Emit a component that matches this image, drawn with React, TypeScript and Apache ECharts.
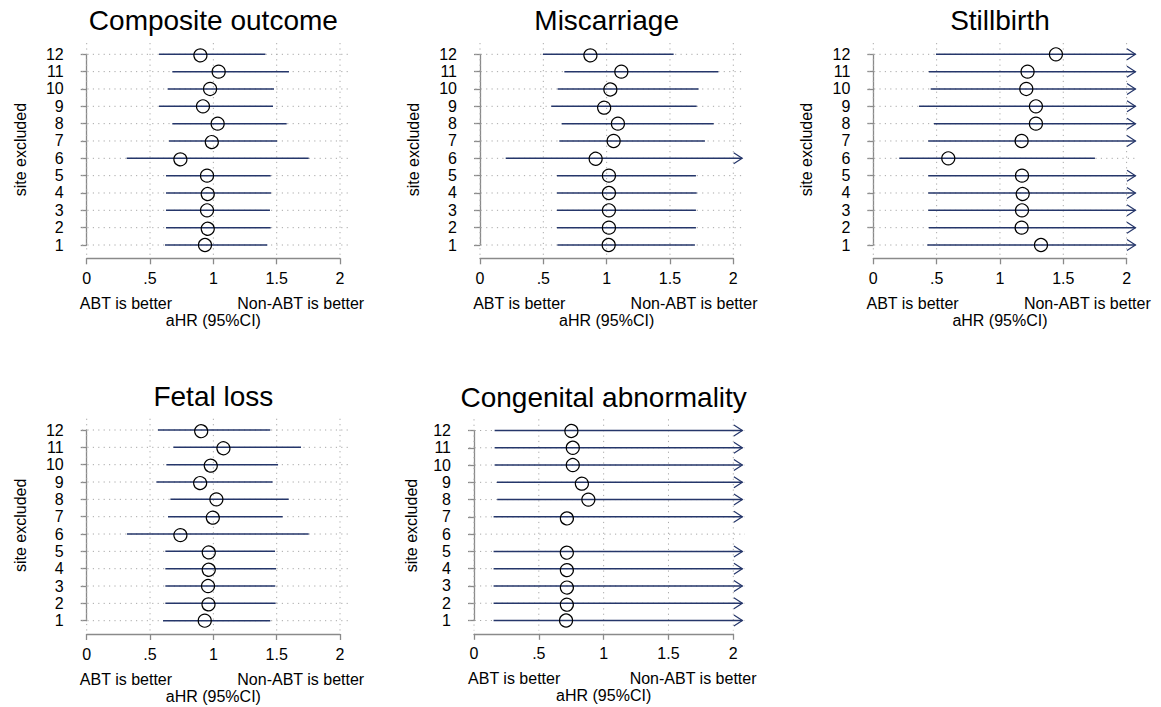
import React, { useEffect, useRef } from "react";
import * as echarts from "echarts";

// ---------- data ----------
const sites = [1, 2, 3, 4, 5, 6, 7, 8, 9, 10, 11, 12];
const xTicks = [0, 0.5, 1, 1.5, 2];
const xTickLabels = ["0", ".5", "1", "1.5", "2"];
const titles = ["Composite outcome", "Miscarriage", "Stillbirth", "Fetal loss", "Congenital abnormality"];
const yAxisTitle = "site excluded";
const xAxisTitle = "aHR (95%CI)";
const leftNote = "ABT is better";
const rightNote = "Non-ABT is better";

// values per excluded site 1..12 ; null upper bound = beyond the axis (drawn as arrow)
const compositeEst = [0.934, 0.955, 0.95, 0.955, 0.95, 0.739, 0.987, 1.034, 0.918, 0.974, 1.042, 0.897];
const compositeLo = [0.618, 0.626, 0.626, 0.626, 0.626, 0.316, 0.65, 0.676, 0.571, 0.639, 0.676, 0.571];
const compositeHi = [1.426, 1.453, 1.447, 1.455, 1.453, 1.753, 1.503, 1.579, 1.471, 1.479, 1.597, 1.411];

const miscarriageEst = [1.016, 1.018, 1.018, 1.018, 1.018, 0.913, 1.055, 1.089, 0.979, 1.029, 1.116, 0.871];
const miscarriageLo = [0.611, 0.608, 0.608, 0.608, 0.608, 0.203, 0.626, 0.645, 0.563, 0.613, 0.666, 0.497];
const miscarriageHi = [1.697, 1.705, 1.705, 1.711, 1.705, null, 1.776, 1.845, 1.711, 1.726, 1.882, 1.529];

const stillbirthEst = [1.324, 1.171, 1.174, 1.179, 1.174, 0.592, 1.171, 1.284, 1.284, 1.208, 1.218, 1.442];
const stillbirthLo = [0.426, 0.439, 0.434, 0.434, 0.434, 0.205, 0.434, 0.479, 0.361, 0.453, 0.439, 0.495];
const stillbirthHi = [null, null, null, null, null, 1.75, null, null, null, null, null, null];

const fetalEst = [0.932, 0.961, 0.958, 0.963, 0.963, 0.739, 0.995, 1.024, 0.895, 0.979, 1.079, 0.903];
const fetalLo = [0.603, 0.621, 0.621, 0.621, 0.621, 0.318, 0.642, 0.661, 0.55, 0.629, 0.684, 0.563];
const fetalHi = [1.45, 1.492, 1.489, 1.495, 1.487, 1.753, 1.547, 1.595, 1.468, 1.511, 1.692, 1.45];

const congenitalEst = [0.71, 0.715, 0.715, 0.715, 0.715, null, 0.715, 0.882, 0.831, 0.762, 0.762, 0.751];
const congenitalLo = [0.151, 0.151, 0.151, 0.151, 0.151, null, 0.151, 0.179, 0.177, 0.159, 0.159, 0.159];
const congenitalHi = [null, null, null, null, null, null, null, null, null, null, null, null];

// ---------- styling / layout ----------
const FONT = '"Liberation Sans", Arial, Helvetica, sans-serif';
const NAVY = "#25366a";
const AXIS_GRAY = "#8a8a8a";
const DOT_GRAY = "#a8a8a8";
const ARROW_TIP = 2.07;
const PLOT_X_MIN = -0.037;
const PLOT_X_MAX = 2.09;
const PLOT_Y_MIN = 0.42;
const PLOT_Y_MAX = 12.65;
const X_OFFSET = 13.3;
const Y_OFFSET = 14;

const panelLayout = [
  { left: 86.7, top: 54.3, width: 253.3, height: 190.7, nameGap: 52.7 },
  { left: 480, top: 54.3, width: 253.3, height: 190.7, nameGap: 52.7 },
  { left: 873.3, top: 54.3, width: 253.3, height: 190.7, nameGap: 52.7 },
  { left: 86.7, top: 430, width: 253.3, height: 190.7, nameGap: 52.7 },
  { left: 474, top: 430.5, width: 259.3, height: 190, nameGap: 48.5 },
];

const panelData = [
  { est: compositeEst, lo: compositeLo, hi: compositeHi },
  { est: miscarriageEst, lo: miscarriageLo, hi: miscarriageHi },
  { est: stillbirthEst, lo: stillbirthLo, hi: stillbirthHi },
  { est: fetalEst, lo: fetalLo, hi: fetalHi },
  { est: congenitalEst, lo: congenitalLo, hi: congenitalHi },
];

function buildOption() {
  const grid = panelLayout.map((g) => ({
    left: g.left,
    top: g.top,
    width: g.width,
    height: g.height,
    containLabel: false,
  }));
  const xAxis = panelLayout.map((_, i) => ({
    gridIndex: i,
    type: "value",
    min: 0,
    max: 2,
    interval: 0.5,
    position: "bottom",
    offset: X_OFFSET,
    axisLine: { show: true, lineStyle: { color: AXIS_GRAY, width: 1.3 } },
    axisTick: { show: true, length: 6, lineStyle: { color: AXIS_GRAY, width: 1.3 } },
    axisLabel: {
      show: true,
      fontSize: 16,
      color: "#000",
      fontFamily: FONT,
      margin: 12,
      showMinLabel: true,
      showMaxLabel: true,
      formatter: (v: number) => {
        const k = xTicks.findIndex((t) => Math.abs(t - v) < 1e-9);
        return k >= 0 ? xTickLabels[k] : "";
      },
    },
    splitLine: { show: false },
  }));
  const yAxis = panelLayout.map((_, i) => ({
    gridIndex: i,
    type: "value",
    min: 1,
    max: 12,
    interval: 1,
    position: "left",
    offset: Y_OFFSET,
    axisLine: { show: true, lineStyle: { color: AXIS_GRAY, width: 1.3 } },
    axisTick: { show: true, length: 6, lineStyle: { color: AXIS_GRAY, width: 1.3 } },
    axisLabel: {
      show: true,
      fontSize: 16,
      color: "#000",
      fontFamily: FONT,
      margin: 9,
      showMinLabel: true,
      showMaxLabel: true,
      formatter: (v: number) => String(sites.find((s) => s === v) ?? v),
    },
    splitLine: { show: false },
  }));

  const series: any[] = [];
  panelLayout.forEach((layout, i) => {
    const d = panelData[i];
    // background: dotted grid, notes, titles
    series.push({
      type: "custom",
      xAxisIndex: i,
      yAxisIndex: i,
      clip: false,
      silent: true,
      z: 1,
      data: [[1, 1]],
      renderItem: (_params: any, api: any) => {
        const children: any[] = [];
        const xl = api.coord([PLOT_X_MIN, 1])[0];
        const xr = api.coord([PLOT_X_MAX, 1])[0];
        const yt = api.coord([0, PLOT_Y_MAX])[1];
        const yb = api.coord([0, PLOT_Y_MIN])[1];
        sites.forEach((s) => {
          const y = api.coord([0, s])[1];
          children.push({
            type: "line",
            shape: { x1: xl, y1: y, x2: xr, y2: y },
            style: { stroke: DOT_GRAY, lineWidth: 1, lineDash: [1.2, 4.2] },
          });
        });
        xTicks.forEach((t) => {
          const x = api.coord([t, 1])[0];
          children.push({
            type: "line",
            shape: { x1: x, y1: yt, x2: x, y2: yb },
            style: { stroke: DOT_GRAY, lineWidth: 1, lineDash: [1.2, 4.2] },
          });
        });
        const axisY = api.coord([0, 1])[1] + X_OFFSET;
        const textStyle = (text: string, size: number) => ({
          text,
          fontSize: size,
          fontFamily: FONT,
          fill: "#000",
          align: "center",
          verticalAlign: "middle",
        });
        children.push({ type: "text", x: api.coord([0.31, 1])[0], y: axisY + 45, style: textStyle(leftNote, 16) });
        children.push({ type: "text", x: api.coord([1.69, 1])[0], y: axisY + 45, style: textStyle(rightNote, 16) });
        children.push({ type: "text", x: api.coord([1, 1])[0], y: axisY + 62, style: textStyle(xAxisTitle, 16) });
        const top12 = api.coord([0, 12])[1];
        children.push({ type: "text", x: api.coord([1, 12])[0], y: top12 - 33.5, style: textStyle(titles[i], 28) });
        children.push({
          type: "text",
          x: api.coord([0, 1])[0] - Y_OFFSET - layout.nameGap,
          y: api.coord([0, 6.5])[1],
          rotation: Math.PI / 2,
          style: textStyle(yAxisTitle, 16),
        });
        return { type: "group", children };
      },
    });
    // confidence intervals + point estimates
    const items = sites
      .map((s, k) => (d.est[k] == null ? null : [d.est[k], s, k]))
      .filter((v) => v != null);
    series.push({
      type: "custom",
      xAxisIndex: i,
      yAxisIndex: i,
      clip: false,
      silent: true,
      z: 3,
      data: items,
      renderItem: (_params: any, api: any) => {
        const k = api.value(2);
        const y = api.coord([0, api.value(1)])[1];
        const xLo = api.coord([d.lo[k], 1])[0];
        const hiV = d.hi[k];
        const children: any[] = [];
        if (hiV == null) {
          const xTip = api.coord([ARROW_TIP, 1])[0];
          children.push({
            type: "line",
            shape: { x1: xLo, y1: y, x2: xTip, y2: y },
            style: { stroke: NAVY, lineWidth: 1.5 },
          });
          children.push({
            type: "polyline",
            shape: { points: [[xTip - 8.5, y - 5.5], [xTip, y], [xTip - 8.5, y + 5.5]] },
            style: { stroke: NAVY, fill: "none", lineWidth: 1.2 },
          });
        } else {
          const xHi = api.coord([hiV, 1])[0];
          children.push({
            type: "line",
            shape: { x1: xLo, y1: y, x2: xHi, y2: y },
            style: { stroke: NAVY, lineWidth: 1.5 },
          });
        }
        const xe = api.coord([api.value(0), 1])[0];
        children.push({
          type: "circle",
          shape: { cx: xe, cy: y, r: 6.5 },
          style: { fill: "none", stroke: "#000", lineWidth: 1.2 },
        });
        return { type: "group", children };
      },
    });
  });

  return {
    animation: false,
    backgroundColor: "#ffffff",
    textStyle: { fontFamily: FONT },
    grid,
    xAxis,
    yAxis,
    series,
  };
}

export default function App() {
  const ref = useRef<HTMLDivElement>(null);
  useEffect(() => {
    if (!ref.current) return;
    const chart = echarts.init(ref.current, null, { renderer: "svg" });
    chart.setOption(buildOption() as any);
    return () => chart.dispose();
  }, []);
  return (
    <div
      ref={ref}
      style={{ position: "absolute", left: 0, top: 0, width: 1161, height: 707, background: "#fff" }}
    />
  );
}
